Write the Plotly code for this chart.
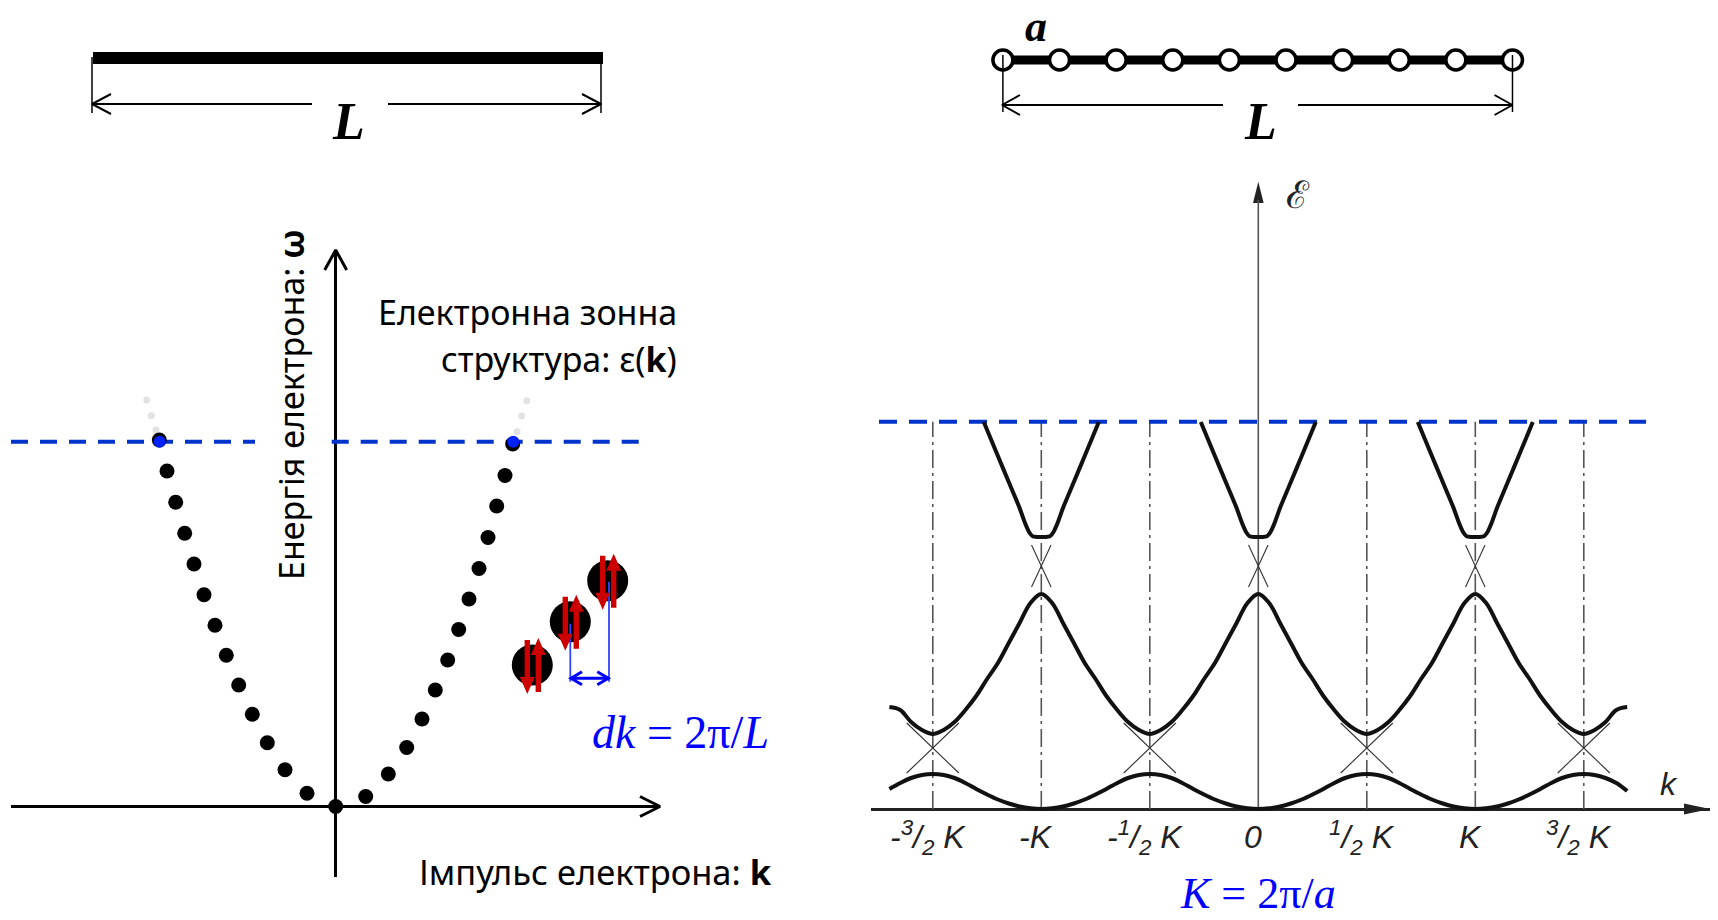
import plotly.graph_objects as go

# ------------------------------------------------------------------ data
# Left panel: allowed electron states in a box of length L  (k, energy; arb. units)
state_k = [-1.764, -1.687, -1.600, -1.510, -1.417, -1.317, -1.207, -1.094, -0.970,
           -0.834, -0.684, -0.507, -0.287, 0.000, 0.300, 0.526, 0.710, 0.863, 0.996,
           1.120, 1.230, 1.333, 1.433, 1.523, 1.610, 1.693, 1.770]
state_E = [3.665, 3.355, 3.042, 2.732, 2.425, 2.118, 1.812, 1.512, 1.215,
           0.922, 0.638, 0.368, 0.132, 0.000, 0.100, 0.325, 0.590, 0.875, 1.165,
           1.465, 1.770, 2.075, 2.380, 2.690, 3.005, 3.310, 3.625]
fermi_k = [-1.760, 1.776]
fermi_E = [3.648, 3.648]
empty_k = [-1.797, -1.844, -1.890, 1.813, 1.860, 1.910]
empty_E = [3.765, 3.908, 4.065, 3.748, 3.905, 4.058]
EF_left = 3.648
fermi_seg1 = [-3.247, -0.807]
fermi_seg2 = [-0.040, 3.033]
pair_k = [1.966, 2.346, 2.720]
pair_E = [1.415, 1.848, 2.258]

# Right panel: band structure, k in units of K = 2pi/a, energy arb. units
band1_k = [round(-1.70 + 0.05 * i, 2) for i in range(69)]
band1_E = [0.20, 0.26, 0.31, 0.34, 0.35, 0.34, 0.31, 0.26, 0.20, 0.145, 0.095, 0.055, 0.025, 0.007, 0.0,
           0.007, 0.025, 0.055, 0.095, 0.145, 0.20, 0.26, 0.31, 0.34, 0.35, 0.34, 0.31, 0.26, 0.20, 0.145,
           0.095, 0.055, 0.025, 0.007, 0.0,
           0.007, 0.025, 0.055, 0.095, 0.145, 0.20, 0.26, 0.31, 0.34, 0.35, 0.34, 0.31, 0.26, 0.20, 0.145,
           0.095, 0.055, 0.025, 0.007, 0.0,
           0.007, 0.025, 0.055, 0.095, 0.145, 0.20, 0.26, 0.31, 0.34, 0.35, 0.34, 0.31, 0.26, 0.18]
band2_k = band1_k
band2_E = [1.02, 0.99, 0.87, 0.79, 0.75, 0.79, 0.87, 0.99, 1.13, 1.30, 1.46, 1.66, 1.86, 2.06, 2.15,
           2.06, 1.86, 1.66, 1.46, 1.30, 1.13, 0.99, 0.87, 0.79, 0.75, 0.79, 0.87, 0.99, 1.13, 1.30,
           1.46, 1.66, 1.86, 2.06, 2.15,
           2.06, 1.86, 1.66, 1.46, 1.30, 1.13, 0.99, 0.87, 0.79, 0.75, 0.79, 0.87, 0.99, 1.13, 1.30,
           1.46, 1.66, 1.86, 2.06, 2.15,
           2.06, 1.86, 1.66, 1.46, 1.30, 1.13, 0.99, 0.87, 0.79, 0.75, 0.79, 0.87, 0.99, 1.02]
band3_k = [-1.265, -1.20, -1.15, -1.10, -1.075, -1.055, -1.04, -1.02, -1.00, -0.98, -0.96, -0.945, -0.925,
           -0.90, -0.85, -0.80, -0.735, None,
           -0.265, -0.20, -0.15, -0.10, -0.075, -0.055, -0.04, -0.02, 0.00, 0.02, 0.04, 0.055, 0.075,
           0.10, 0.15, 0.20, 0.265, None,
           0.735, 0.80, 0.85, 0.90, 0.925, 0.945, 0.96, 0.98, 1.00, 1.02, 1.04, 1.055, 1.075,
           1.10, 1.15, 1.20, 1.265]
band3_E = [3.87, 3.53, 3.27, 3.01, 2.86, 2.765, 2.728, 2.72, 2.72, 2.72, 2.728, 2.765, 2.86,
           3.01, 3.27, 3.53, 3.87, None,
           3.87, 3.53, 3.27, 3.01, 2.86, 2.765, 2.728, 2.72, 2.72, 2.72, 2.728, 2.765, 2.86,
           3.01, 3.27, 3.53, 3.87, None,
           3.87, 3.53, 3.27, 3.01, 2.86, 2.765, 2.728, 2.72, 2.72, 2.72, 2.728, 2.765, 2.86,
           3.01, 3.27, 3.53, 3.87]
# thin free-electron crossings inside the gaps
cross_k = [-1.62, -1.38, None, -1.62, -1.38, None, -0.62, -0.38, None, -0.62, -0.38, None,
           0.38, 0.62, None, 0.38, 0.62, None, 1.38, 1.62, None, 1.38, 1.62, None,
           -1.045, -0.955, None, -1.045, -0.955, None, -0.045, 0.045, None, -0.045, 0.045, None,
           0.955, 1.045, None, 0.955, 1.045]
cross_E = [0.36, 0.86, None, 0.86, 0.36, None, 0.36, 0.86, None, 0.86, 0.36, None,
           0.36, 0.86, None, 0.86, 0.36, None, 0.36, 0.86, None, 0.86, 0.36, None,
           2.22, 2.64, None, 2.64, 2.22, None, 2.22, 2.64, None, 2.64, 2.22, None,
           2.22, 2.64, None, 2.64, 2.22]
zone_k = [-1.5, -1.0, -0.5, 0.5, 1.0, 1.5]
EF_right = 3.873
fermi_right = [-1.748, 1.787]
tick_k = [-1.5, -1.0, -0.5, 0.0, 0.5, 1.0, 1.5]
tick_text = ["-<sup>3</sup>/<sub>2</sub> K", "-K", "-<sup>1</sup>/<sub>2</sub> K", "0",
             "<sup>1</sup>/<sub>2</sub> K", "K", "<sup>3</sup>/<sub>2</sub> K"]
E_axis_top = 6.273

# chain of atoms (site index, lattice constant a = 1)
sites = list(range(10))

# ------------------------------------------------------------------ style / layout constants
W, H = 1718, 920
BLUE_DASH = "#0033cc"
BLACK = "#000000"
RED = "#cc0000"
BLUE = "#0000ff"
SANS = "Noto Sans"
SERIF = "Liberation Serif"

fig = go.Figure()


def chevron(tx, ty, ux, uy, length, half):
    bx, by = tx - ux * length, ty - uy * length
    px, py = -uy, ux
    return [bx + px * half, tx, bx - px * half], [by + py * half, ty, by - py * half]


def line(xs, ys, width, color, xa="x", ya="y", dash=None, shape="linear", smoothing=1.0):
    fig.add_trace(go.Scatter(x=xs, y=ys, mode="lines", xaxis=xa, yaxis=ya,
                             line=dict(width=width, color=color, dash=dash, shape=shape,
                                       smoothing=smoothing),
                             hoverinfo="skip"))


def tri(xs, ys, color, xa="x", ya="y"):
    fig.add_trace(go.Scatter(x=xs + [xs[0]], y=ys + [ys[0]], mode="lines", fill="toself",
                             fillcolor=color, line=dict(width=0, color=color),
                             xaxis=xa, yaxis=ya, hoverinfo="skip"))


# ------------------------------------------------------------------ top left: continuous wire
line([93, 603], [58, 58], 12, BLACK)
line([92, 92, None, 601, 601], [57, 113, None, 57, 113], 1.5, BLACK)
line([92, 312, None, 388, 601], [104, 104, None, 104, 104], 2, BLACK)
cx, cy = chevron(92, 104, -1, 0, 19, 10)
line(cx, cy, 2, BLACK)
cx, cy = chevron(601, 104, 1, 0, 19, 10)
line(cx, cy, 2, BLACK)

# ------------------------------------------------------------------ top right: chain of atoms
fig.add_trace(go.Scatter(x=[sites[0], sites[-1]], y=[60, 60], mode="lines", xaxis="x4", yaxis="y",
                         line=dict(width=9, color=BLACK), hoverinfo="skip"))
fig.add_trace(go.Scatter(x=sites, y=[60] * len(sites), mode="markers", xaxis="x4", yaxis="y",
                         marker=dict(size=20, color="white", line=dict(width=3.5, color=BLACK)),
                         hoverinfo="skip"))
fig.add_trace(go.Scatter(x=[sites[0], sites[0], None, sites[-1], sites[-1]],
                         y=[55, 112, None, 55, 112], mode="lines", xaxis="x4", yaxis="y",
                         line=dict(width=1.5, color=BLACK), hoverinfo="skip"))
line([1002, 1223, None, 1298, 1512.5], [105, 105, None, 105, 105], 2, BLACK)
cx, cy = chevron(1002, 105, -1, 0, 18, 10)
line(cx, cy, 2, BLACK)
cx, cy = chevron(1512.5, 105, 1, 0, 18, 10)
line(cx, cy, 2, BLACK)

# ------------------------------------------------------------------ left panel
line(fermi_seg1, [EF_left] * 2, 4, BLUE_DASH, "x2", "y2", dash="17px,12px")
line(fermi_seg2, [EF_left] * 2, 4, BLUE_DASH, "x2", "y2", dash="17px,12px")
fig.add_trace(go.Scatter(x=empty_k, y=empty_E, mode="markers", xaxis="x2", yaxis="y2",
                         marker=dict(size=7, color="#e2e2e2"), hoverinfo="skip"))
fig.add_trace(go.Scatter(x=state_k, y=state_E, mode="markers", xaxis="x2", yaxis="y2",
                         marker=dict(size=15, color=BLACK), hoverinfo="skip", cliponaxis=False))
fig.add_trace(go.Scatter(x=fermi_k, y=fermi_E, mode="markers", xaxis="x2", yaxis="y2",
                         marker=dict(size=12, color="#0022ff"), hoverinfo="skip"))
# axis arrow heads (pixel space)
cx, cy = chevron(335.7, 250, 0, -1, 20, 11)
line(cx, cy, 3, BLACK)
cx, cy = chevron(660, 806.5, 1, 0, 20, 10)
line(cx, cy, 3, BLACK)

# electron pairs
fig.add_trace(go.Scatter(x=pair_k, y=pair_E, mode="markers", xaxis="x2", yaxis="y2",
                         marker=dict(size=41, color=BLACK), hoverinfo="skip"))
line([pair_k[1], pair_k[1], None, pair_k[2] + 0.013, pair_k[2] + 0.013],
     [pair_E[1] - 0.02, 1.248, None, pair_E[2] - 0.01, 1.248], 1.8, "#3344ff", "x2", "y2")
line([pair_k[1] + 0.007, pair_k[2] + 0.006], [1.282, 1.282], 3, BLUE, "x2", "y2")
cx, cy = chevron(pair_k[1] + 0.007, 1.282, -1, 0, 0.11, 0.065)
line(cx, cy, 3, BLUE, "x2", "y2")
cx, cy = chevron(pair_k[2] + 0.006, 1.282, 1, 0, 0.11, 0.065)
line(cx, cy, 3, BLUE, "x2", "y2")


def red_arrow(k, e0, e1):
    s = 1 if e1 > e0 else -1
    hl, hw, sw = 0.17, 0.075, 0.027
    xs = [k - sw, k - sw, k - hw, k, k + hw, k + sw, k + sw]
    ys = [e0, e1 - s * hl, e1 - s * hl, e1, e1 - s * hl, e1 - s * hl, e0]
    tri(xs, ys, RED, "x2", "y2")


for k, e in zip(pair_k, pair_E):
    red_arrow(k - 0.05, e + 0.25, e - 0.29)
    red_arrow(k + 0.06, e - 0.27, e + 0.27)

# ------------------------------------------------------------------ right panel
for zk in zone_k:
    line([zk, zk], [0, EF_right], 1.6, "#555555", "x3", "y3", dash="18px,5px,3px,5px")
line([0, 0], [0, E_axis_top - 0.18], 1.6, "#555555", "x3", "y3")
line(fermi_right, [EF_right] * 2, 4, BLUE_DASH, "x3", "y3", dash="18px,12px")
line(cross_k, cross_E, 1.1, "#333333", "x3", "y3")
line(band1_k, band1_E, 4, "#111111", "x3", "y3", shape="spline")
line(band2_k, band2_E, 4, "#111111", "x3", "y3", shape="spline")
line(band3_k, band3_E, 4, "#111111", "x3", "y3", shape="spline", smoothing=0.6)
# arrow tips of right axes (pixel space)
tri([1710, 1684, 1684], [809, 803.5, 814.5], "#222222")
tri([1258.3, 1253, 1263.6], [181.7, 203, 203], "#222222")

# ------------------------------------------------------------------ texts
ann = []


def text(x, y, s, size, family, color=BLACK, xanchor="center", angle=0, xref="x", yref="y"):
    ann.append(dict(x=x, y=y, xref=xref, yref=yref, text=s, showarrow=False,
                    xanchor=xanchor, yanchor="middle", textangle=angle,
                    font=dict(size=size, family=family, color=color)))


text(348, 121, "<b><i>L</i></b>", 52, SERIF)
text(1260, 121, "<b><i>L</i></b>", 52, SERIF)
text(1036, 26, "<b><i>a</i></b>", 44, SERIF)
text(291, 405, "Енергія електрона: <b>ω</b>", 34, SANS, angle=-90)
text(679, 312, "Електронна зонна", 34, SANS, xanchor="right")
text(679, 359, "структура: ε(<b>k</b>)", 34, SANS, xanchor="right")
text(774, 871, "Імпульс електрона: <b>k</b>", 34.5, SANS, xanchor="right")
text(680, 732, "<i>dk</i> = 2π/<i>L</i>", 46, SERIF, color=BLUE)
text(1258, 893, "<i>K</i> = 2π/<i>a</i>", 44, SERIF, color=BLUE)
text(1298, 195, "ℰ", 38, "DejaVu Serif", color="#222222")
text(1669, 784, "<i>k</i>", 32, "Liberation Sans", color="#222222")
for tk, tt in zip(tick_k, tick_text):
    ann.append(dict(x=tk, y=1 - 837 / H, xref="x3", yref="paper", text="<i>" + tt + "</i>",
                    showarrow=False, xanchor="center", yanchor="middle", xshift=-5,
                    font=dict(size=32, family="Liberation Sans", color="#222222")))

hidden = dict(visible=False, fixedrange=True)
fig.update_layout(
    width=W, height=H, margin=dict(l=0, r=0, t=0, b=0, pad=0),
    paper_bgcolor="white", plot_bgcolor="rgba(0,0,0,0)", showlegend=False,
    hovermode=False, annotations=ann,
    xaxis=dict(domain=[0, 1], range=[0, W], **hidden),
    yaxis=dict(domain=[0, 1], range=[H, 0], **hidden),
    xaxis2=dict(domain=[11 / W, 660 / W], range=[-3.247, 3.243], anchor="y2",
                showgrid=False, showticklabels=False, ticks="", showline=False,
                zeroline=True, zerolinecolor=BLACK, zerolinewidth=3, fixedrange=True),
    yaxis2=dict(domain=[1 - 876.6 / H, 1 - 250 / H], range=[-0.701, 5.565], anchor="x2",
                showgrid=False, showticklabels=False, ticks="", showline=False,
                zeroline=True, zerolinecolor=BLACK, zerolinewidth=3, fixedrange=True),
    xaxis3=dict(domain=[871 / W, 1710 / W], range=[-1.7848, 2.0816], anchor="y3",
                showgrid=False, showticklabels=False, ticks="", showline=False,
                zeroline=False, fixedrange=True),
    yaxis3=dict(domain=[1 - 839 / H, 1 - 181.7 / H], range=[-0.30, 6.273], anchor="x3",
                showgrid=False, showticklabels=False, ticks="", showline=False,
                zeroline=True, zerolinecolor="#222222", zerolinewidth=2.5, fixedrange=True),
    xaxis4=dict(domain=[0, 1], range=[-1002.9 / 56.62, (W - 1002.9) / 56.62], anchor="y", **hidden),
)

fig.write_html("out.html", config={"displayModeBar": False},
               post_script="document.body.style.margin='0';")
